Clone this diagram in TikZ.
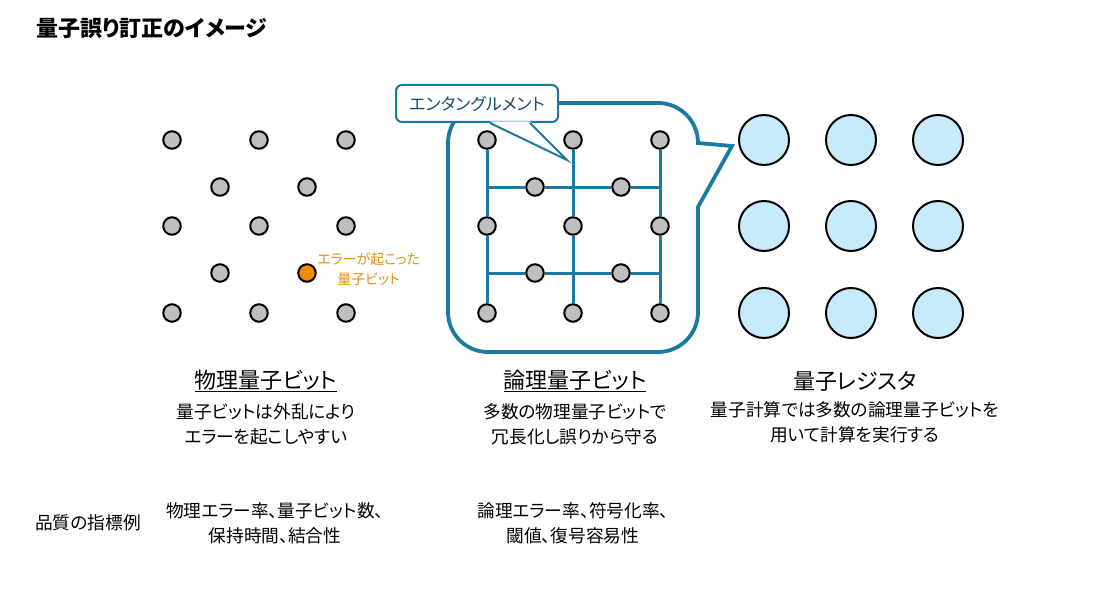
\documentclass[tikz,border=0pt]{standalone}
\usepackage{fontspec}
\setmainfont{Noto Sans CJK JP}[RawFeature=+palt]
\usetikzlibrary{positioning}

\definecolor{qteal}{RGB}{27,122,160}
\definecolor{qgray}{RGB}{191,191,191}
\definecolor{qorange}{RGB}{240,140,0}
\definecolor{qwarn}{RGB}{226,142,20}
\definecolor{qblue}{RGB}{199,235,251}
\definecolor{qink}{RGB}{30,78,107}

\begin{document}
\begin{tikzpicture}[x=1pt, y=-1pt,
  qbit/.style = {draw, circle, line width=2pt, fill=qgray, minimum size=17.5pt, inner sep=0pt},
  reg/.style = {draw, circle, line width=2pt, fill=qblue, minimum size=50pt, inner sep=0pt},
  link/.style = {qteal, line width=3pt},
  head/.style = {font=\fontsize{22}{26}\selectfont},
  desc/.style = {align=center, font=\fontsize{17.7}{25}\selectfont}]
\useasboundingbox (0,0) rectangle (1108,591);

\node[anchor=west, font=\bfseries\fontsize{22}{24}\selectfont] (title) at (33,28) {量子誤り訂正のイメージ};

% physical qubits
\foreach \x [count=\i] in {172,259,346}
  \foreach \y [count=\j] in {140,226,313}
    \node[qbit] (p\j\i) at (\x,\y) {};
\node[qbit] (p41) at (220,187) {};
\node[qbit] (p42) at (307,187) {};
\node[qbit] (p51) at (220,273) {};
\node[qbit, fill=qorange] (err) at (307,273) {};
\node[right=-3pt of err, yshift=4pt, align=center, text=qwarn, font=\fontsize{14}{20}\selectfont] (errlabel) {エラーが起こった\\量子ビット};

% logical qubit bubble
\draw[qteal, line width=3.8pt] (732,146) -- (698,207) -- (698,312)
  arc[start angle=0, end angle=-90, radius=40pt] -- (488,352)
  arc[start angle=270, end angle=180, radius=40pt] -- (448,143)
  arc[start angle=180, end angle=90, radius=40pt] -- (658,103)
  arc[start angle=90, end angle=0, radius=40pt] -- cycle;

\foreach \x [count=\i] in {487,573,660}
  \foreach \y [count=\j] in {140,226,313}
    \node[qbit] (l\j\i) at (\x,\y) {};
\foreach \y [count=\j] in {187,273} {
  \node[qbit] (h\j1) at (535,\y) {};
  \node[qbit] (h\j2) at (621,\y) {};
}
\draw[link] (l11) -- (l21) -- (l31);
\draw[link] (l12) -- (l22) -- (l32);
\draw[link] (l13) -- (l23) -- (l33);
\draw[link] (l11 |- h11) -- (h11) -- (h12) -- (l13 |- h12);
\draw[link] (l11 |- h21) -- (h21) -- (h22) -- (l13 |- h22);

% entanglement callout
\node[draw=qteal, line width=2pt, fill=white, rounded corners=6pt, minimum width=162pt, minimum height=37pt,
  text=qink, font=\fontsize{17}{20}\selectfont] (ent) at (477,103.5) {エンタングルメント};
\coordinate (tip) at (567,160);
\fill[white] ([xshift=13pt, yshift=1.5pt]ent.south) -- (tip) -- ([xshift=53pt, yshift=1.5pt]ent.south) -- cycle;
\draw[qteal, line width=2pt] ([xshift=13pt]ent.south) -- (tip) -- ([xshift=53pt]ent.south);

% quantum register
\foreach \x [count=\i] in {764,851,938}
  \foreach \y [count=\j] in {140,226,313}
    \node[reg] (r\j\i) at (\x,\y) {};

% captions
\node[head] (phyhead) at (266,381) {\underline{物理量子ビット}};
\node[desc, below=4pt of phyhead] (phydesc) {量子ビットは外乱により\\エラーを起こしやすい};
\node[head] (loghead) at (575,381) {\underline{論理量子ビット}};
\node[desc, below=4pt of loghead] (logdesc) {多数の物理量子ビットで\\冗長化し誤りから守る};
\node[head] (reghead) at (855,381) {量子レジスタ};
\node[desc, below=4pt of reghead] (regdesc) {量子計算では多数の論理量子ビットを\\用いて計算を実行する};

% quality metrics
\node[font=\fontsize{17.7}{20}\selectfont] (metric) at (88,523) {品質の指標例};
\node[desc] (phymetric) at (275,523) {物理エラー率、量子ビット数、\\保持時間、結合性};
\node[desc] (logmetric) at (573,523) {論理エラー率、符号化率、\\閾値、復号容易性};
\end{tikzpicture}
\end{document}
